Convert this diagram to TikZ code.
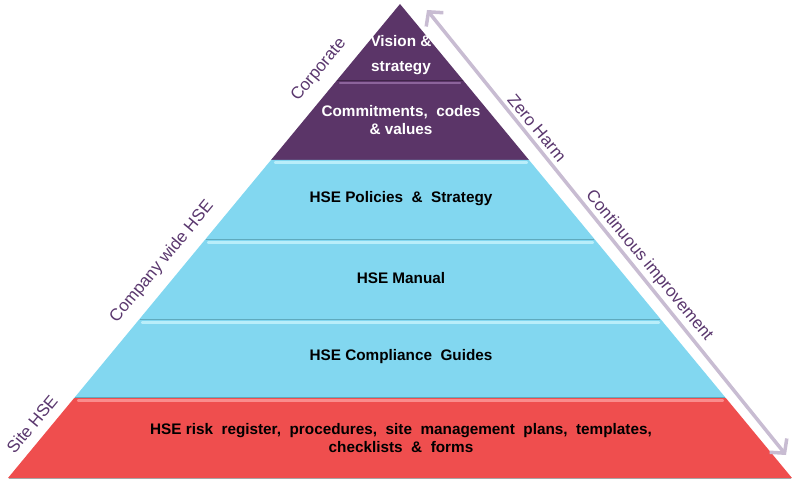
\documentclass[tikz,border=0pt]{standalone}
\usepackage{fontspec}
\setmainfont{Liberation Sans}
\usetikzlibrary{arrows.meta}
\definecolor{corp}{RGB}{91,53,104}
\definecolor{corphi}{RGB}{140,100,155}
\definecolor{cyanl}{RGB}{130,215,240}
\definecolor{cyanhi}{RGB}{185,238,250}
\definecolor{cyandk}{RGB}{95,170,190}
\definecolor{redl}{RGB}{239,78,78}
\definecolor{redhi}{RGB}{250,140,140}
\definecolor{labpurple}{RGB}{90,55,110}
\definecolor{arrowc}{RGB}{200,188,210}
\tikzset{
  laytext/.style={font=\fontsize{15.3}{17.5}\selectfont\bfseries, align=center, inner sep=0pt},
  sidelab/.style={font=\fontsize{17}{20}\selectfont, text=labpurple, inner sep=0pt},
  hiline/.style={line width=2.2pt, line cap=round},
  dkline/.style={line width=1pt},
}
\begin{document}
\begin{tikzpicture}[x=1pt,y=-1pt]
\useasboundingbox (0,0) rectangle (792,481);
% layers
\fill[corp] (400,4) -- (463.7,81) -- (336.3,81) -- cycle;
\fill[corp] (336.3,81) -- (463.7,81) -- (529,160) -- (271,160) -- cycle;
\fill[cyanl] (271,160) -- (529,160) -- (595.2,240) -- (204.8,240) -- cycle;
\fill[cyanl] (204.8,240) -- (595.2,240) -- (661.3,320) -- (138.7,320) -- cycle;
\fill[cyanl] (138.7,320) -- (661.3,320) -- (725.8,398) -- (74.2,398) -- cycle;
\fill[redl] (74.2,398) -- (725.8,398) -- (792,478) -- (8,478) -- cycle;
% separators and highlights
\draw[corp!70!black, dkline] (337,80.5) -- (463,80.5);
\draw[corphi, hiline] (340,83) -- (460,83);
\draw[cyanhi, hiline] (275,162.5) -- (527,162.5);
\draw[cyandk, dkline] (206,239.5) -- (594,239.5);
\draw[cyanhi, hiline] (208,242.5) -- (593,242.5);
\draw[cyandk, dkline] (140,319.5) -- (660,319.5);
\draw[cyanhi, hiline] (142,322.5) -- (659,322.5);
\draw[cyandk, dkline] (75,397.5) -- (725,397.5);
\draw[redhi, hiline] (78,400.5) -- (723,400.5);
\draw[gray!70, line width=1.2pt] (9,478.5) -- (791,478.5);
% layer texts
\node[laytext, text=white] (vision) at (401,55) {Vision \&\\[7pt]strategy};
\node[laytext, text=white] (commit) at (401,120) {Commitments,~ codes\\\& values};
\node[laytext] (policies) at (401,199) {HSE Policies ~\& ~Strategy};
\node[laytext] (manual) at (401,278) {HSE Manual};
\node[laytext] (compl) at (401,357) {HSE Compliance ~Guides};
\node[laytext] (risk) at (401,438) {HSE risk ~register, ~procedures, ~site ~management ~plans, ~templates,\\checklists ~\& ~forms};
% side labels
\node[sidelab, rotate=50.4] (corplab) at (319,70) {Corporate};
\node[sidelab, rotate=50.4] (complab) at (162,262) {Company wide HSE};
\node[sidelab, rotate=50.4] (sitelab) at (32,424) {Site HSE};
\node[sidelab, rotate=-50.4] (zerolab) at (537,128) {Zero Harm};
\node[sidelab, rotate=-50.4] (contlab) at (649,266) {Continuous improvement};
% arrow
\coordinate (arrtop) at (427,10);
\coordinate (arrbot) at (786,455);
\draw[arrowc, line width=3.5pt, {Straight Barb[length=10pt,width=22pt]}-{Straight Barb[length=10pt,width=22pt]}] (arrtop) -- (arrbot);
\end{tikzpicture}
\end{document}
